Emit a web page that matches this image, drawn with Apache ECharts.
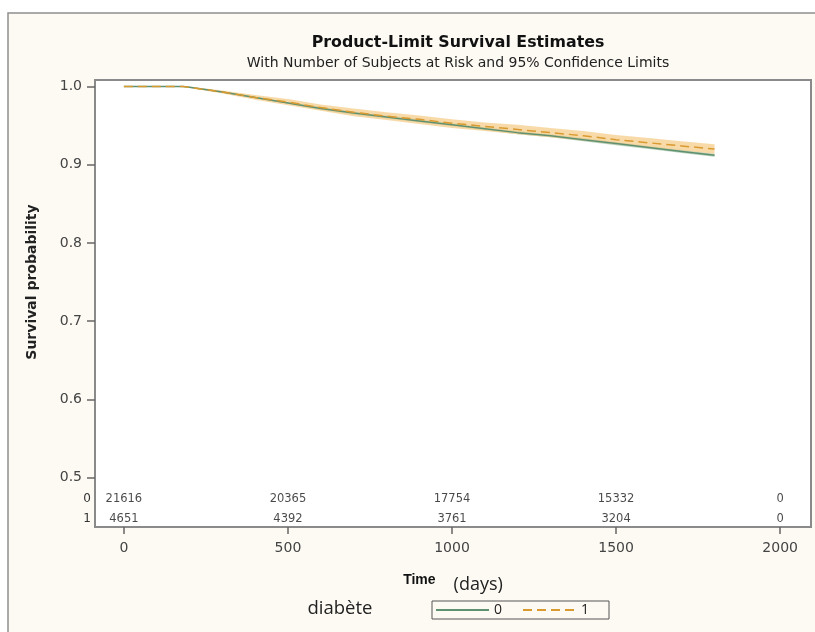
<!DOCTYPE html>
<html>
<head>
<meta charset="utf-8">
<script src="https://cdn.jsdelivr.net/npm/echarts@6/dist/echarts.min.js"></script>
<style>
html,body{margin:0;padding:0;background:#ffffff;}
#chart{width:815px;height:632px;}
</style>
</head>
<body>
<div id="chart"></div>
<script>
// ---- data ----
var times = [0, 180, 200, 300, 400, 500, 600, 700, 800, 900, 1000, 1100, 1200, 1300, 1400, 1500, 1600, 1700, 1800];
var surv0 = [1.000, 1.000, 0.999, 0.993, 0.986, 0.979, 0.972, 0.966, 0.961, 0.956, 0.951, 0.946, 0.941, 0.937, 0.932, 0.927, 0.922, 0.917, 0.912];
var surv1 = [1.000, 1.000, 0.999, 0.993, 0.986, 0.980, 0.973, 0.967, 0.962, 0.958, 0.953, 0.949, 0.945, 0.941, 0.937, 0.932, 0.928, 0.924, 0.920];
var lower0 = [1.000, 1.000, 0.999, 0.992, 0.985, 0.978, 0.970, 0.964, 0.959, 0.954, 0.949, 0.944, 0.939, 0.935, 0.930, 0.925, 0.920, 0.915, 0.910];
var upper0 = [1.000, 1.000, 0.999, 0.994, 0.987, 0.980, 0.974, 0.968, 0.963, 0.958, 0.953, 0.948, 0.943, 0.939, 0.934, 0.929, 0.924, 0.919, 0.914];
var lower1 = [1.000, 1.000, 0.998, 0.991, 0.983, 0.976, 0.969, 0.962, 0.957, 0.952, 0.947, 0.943, 0.939, 0.935, 0.931, 0.926, 0.922, 0.918, 0.914];
var upper1 = [1.000, 1.000, 1.000, 0.995, 0.989, 0.984, 0.977, 0.972, 0.967, 0.963, 0.958, 0.954, 0.951, 0.947, 0.943, 0.938, 0.934, 0.930, 0.926];
var riskTimes = [0, 500, 1000, 1500, 2000];
var riskGroup0 = [21616, 20365, 17754, 15332, 0];
var riskGroup1 = [4651, 4392, 3761, 3204, 0];
var xTicks = [0, 500, 1000, 1500, 2000];
var yTicks = [0.5, 0.6, 0.7, 0.8, 0.9, 1.0];
var groups = ['0', '1'];

// ---- build ----
function pairs(xs, ys) { return xs.map(function (x, i) { return [x, ys[i]]; }); }
function bandData(xs, lo, hi) { return xs.map(function (x, i) { return [x, lo[i], hi[i]]; }); }
function riskData(g, counts) { return riskTimes.map(function (t, i) { return [t, g, counts[i]]; }); }

function bandSeries(name, xs, lo, hi, color, z) {
  return {
    name: name, type: 'custom', silent: true, z: z,
    data: bandData(xs, lo, hi),
    encode: {x: 0, y: [1, 2]},
    renderItem: function (params, api) {
      if (params.dataIndex !== 0) return null;
      var pts = [], i;
      for (i = 0; i < xs.length; i++) pts.push(api.coord([xs[i], hi[i]]));
      for (i = xs.length - 1; i >= 0; i--) pts.push(api.coord([xs[i], lo[i]]));
      return {type: 'polygon', shape: {points: pts}, style: {fill: color, stroke: null}};
    }
  };
}

var XMIN = -88, XMAX = 2094, YMIN = 0.4367, YMAX = 1.0083;
var SANS = '"Liberation Sans", Arial, sans-serif';
var WIDE = '"DejaVu Sans", Verdana, sans-serif';
var NOTE = '"Open Sans", "Noto Sans", sans-serif';

var chart = echarts.init(document.getElementById('chart'), null, {renderer: 'canvas'});
chart.setOption({
  animation: false,
  backgroundColor: '#ffffff',
  graphic: [
    {type: 'rect', z: -10, shape: {x: 8, y: 13, width: 840, height: 650},
     style: {fill: '#fcfaf3', stroke: '#8f8f8f', lineWidth: 1.5}},
    {type: 'text', x: 32, y: 282, rotation: Math.PI / 2, z: 10,
     style: {text: 'Survival probability', font: 'bold 14px ' + WIDE, fill: '#222',
             textAlign: 'center', textVerticalAlign: 'middle'}},
    {type: 'text', x: 340, y: 609, z: 10,
     style: {text: 'diabète', font: '18.5px ' + NOTE, fill: '#222',
             textAlign: 'center', textVerticalAlign: 'middle'}}
  ],
  title: {
    text: 'Product-Limit Survival Estimates',
    subtext: 'With Number of Subjects at Risk and 95% Confidence Limits',
    left: 453, top: 30, textAlign: 'center', itemGap: 5,
    textStyle: {fontFamily: WIDE, fontSize: 15.8, fontWeight: 'bold', color: '#111'},
    subtextStyle: {fontFamily: WIDE, fontSize: 14, color: '#222'}
  },
  legend: {
    data: groups,
    left: 432, top: 601,
    orient: 'horizontal',
    itemWidth: 53, itemHeight: 12, itemGap: 20,
    padding: [2, 20, 2, 3],
    borderColor: '#555', borderWidth: 1,
    backgroundColor: '#fcfaf3',
    itemStyle: {opacity: 0},
    textStyle: {fontFamily: NOTE, fontSize: 14, color: '#222'}
  },
  grid: [
    {left: 95, top: 80, width: 716, height: 447, show: true, backgroundColor: '#ffffff',
     borderColor: '#8a8a8a', borderWidth: 2},
    {left: 95, top: 489, width: 716, height: 40, show: false}
  ],
  xAxis: [
    {type: 'value', gridIndex: 0, min: XMIN, max: XMAX,
     name: '{b|Time}{n|(days)}', nameLocation: 'middle', nameGap: 45,
     nameTextStyle: {rich: {
       b: {fontFamily: SANS, fontWeight: 'bold', fontSize: 14, color: '#111', padding: [0, 0, 5, 0]},
       n: {fontFamily: NOTE, fontSize: 18, color: '#222', padding: [4, 0, 0, 18]}
     }},
     axisLine: {show: false, onZero: false},
     axisTick: {show: true, length: 7, customValues: xTicks, lineStyle: {color: '#666', width: 1.5}},
     axisLabel: {customValues: xTicks, margin: 14, fontFamily: WIDE, fontSize: 14, color: '#444',
                 formatter: function (v) { return String(v); }},
     splitLine: {show: false}},
    {type: 'value', gridIndex: 1, min: XMIN, max: XMAX, show: false}
  ],
  yAxis: [
    {type: 'value', gridIndex: 0, min: YMIN, max: YMAX,
     axisLine: {show: false, onZero: false},
     axisTick: {show: true, length: 8, customValues: yTicks, lineStyle: {color: '#666', width: 1.5}},
     axisLabel: {customValues: yTicks, margin: 13, fontFamily: WIDE, fontSize: 14, color: '#444',
                 formatter: function (v) { return v.toFixed(1); }},
     splitLine: {show: false}},
    {type: 'category', gridIndex: 1, data: ['1', '0'],
     axisLine: {show: false, onZero: false}, axisTick: {show: false},
     axisLabel: {margin: 4, fontFamily: WIDE, fontSize: 12, color: '#333'}}
  ],
  series: [
    bandSeries('ci0', times, lower0, upper0, 'rgba(170,200,175,0.85)', 1),
    bandSeries('ci1', times, lower1, upper1, 'rgba(246,205,140,0.75)', 2),
    {name: '0', type: 'line', data: pairs(times, surv0), symbol: 'none', z: 4,
     itemStyle: {color: '#8fa89a'},
     lineStyle: {color: '#5f9170', width: 1.5, type: 'solid'}},
    {name: '1', type: 'line', data: pairs(times, surv1), symbol: 'none', z: 5,
     itemStyle: {color: '#e3a53e'},
     lineStyle: {color: '#d99a2f', width: 1.5, type: [9, 5]}},
    {name: 'risk0', type: 'scatter', xAxisIndex: 1, yAxisIndex: 1, data: riskData('0', riskGroup0),
     symbolSize: 1, itemStyle: {color: 'rgba(0,0,0,0)'}, silent: true,
     label: {show: true, position: 'inside', fontFamily: WIDE, fontSize: 11.5, color: '#1a1a1a',
             formatter: function (p) { return String(p.value[2]); }}},
    {name: 'risk1', type: 'scatter', xAxisIndex: 1, yAxisIndex: 1, data: riskData('1', riskGroup1),
     symbolSize: 1, itemStyle: {color: 'rgba(0,0,0,0)'}, silent: true,
     label: {show: true, position: 'inside', fontFamily: WIDE, fontSize: 11.5, color: '#1a1a1a',
             formatter: function (p) { return String(p.value[2]); }}}
  ]
});
</script>
</body>
</html>
